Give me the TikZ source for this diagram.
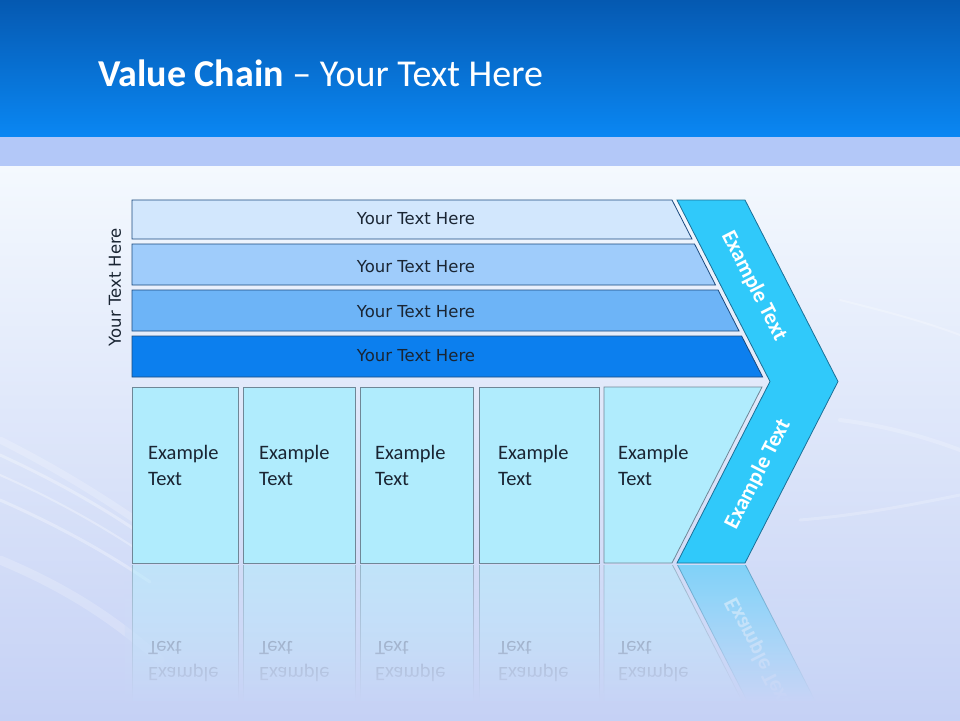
\documentclass[tikz,border=0pt]{standalone}
\usepackage{fontspec}
\setmainfont{Carlito}
\newfontfamily\barfont{DejaVu Sans}
\usetikzlibrary{fadings}
\definecolor{headtop}{HTML}{0559B1}
\definecolor{headbot}{HTML}{0A87F3}
\definecolor{band}{HTML}{B3C8F8}
\definecolor{bgtop}{HTML}{F4F9FE}
\definecolor{bgmid}{HTML}{DCEEFC}
\definecolor{bgbot}{HTML}{C5D1F5}
\definecolor{barA}{HTML}{D2E7FD}
\definecolor{barB}{HTML}{9FCCFB}
\definecolor{barC}{HTML}{6DB4F7}
\definecolor{barD}{HTML}{0C7FEE}
\definecolor{baredge}{HTML}{1B4A7E}
\definecolor{boxfill}{HTML}{B0ECFD}
\definecolor{boxedge}{HTML}{6F8797}
\definecolor{chevfill}{HTML}{30C9FA}
\definecolor{chevedge}{HTML}{1B6F96}
\definecolor{textdark}{HTML}{1A2533}
\tikzfading[name=reflfade, top color=transparent!100, bottom color=transparent!0]
\newcommand{\slantbar}[2]% top y, bottom y
{(132,#1) -- ({672+0.512*(#1-200)},#1) -- ({672+0.512*(#2-200)},#2) -- (132,#2) -- cycle
}
\newcommand{\chevronpath}% outline of the arrow
{(677,200) -- (745,200) -- (838,381.5) -- (745,563) -- (677,563) -- (770,381.5) -- cycle
}

\begin{document}
\begin{tikzpicture}[x=1pt,y=-1pt,
  barline/.style={draw=baredge, line width=0.8pt},
  boxline/.style={draw=boxedge, fill=boxfill, line width=0.8pt},
  chevline/.style={draw=chevedge, fill=chevfill, line width=0.8pt},
  streak/.style={white, line cap=round, opacity=0.3},
  bartext/.style={font=\barfont\fontsize{16.5}{20}\selectfont, text=textdark, inner sep=0pt},
  boxtext/.style={font=\fontsize{20.5}{26}\selectfont, text=textdark, align=left, anchor=north west, inner sep=0pt},
  chevtext/.style={font=\bfseries\fontsize{22}{26}\selectfont, text=white, inner sep=0pt}]
  \useasboundingbox (0,0) rectangle (960,720);
  % background
  \shade[top color=headtop, bottom color=headbot] (0,0) rectangle (960,137);
  \fill[band] (0,137) rectangle (960,166);
  \shade[top color=bgtop, middle color=bgmid, bottom color=bgbot] (0,166) rectangle (960,720);
  \draw[streak, line width=7pt, opacity=0.2] (0,440) .. controls (50,465) and (100,495) .. (150,530);
  \draw[streak, line width=3pt] (0,455) .. controls (50,478) and (100,505) .. (150,540);
  \draw[streak, line width=2pt] (0,475) .. controls (50,497) and (100,524) .. (150,558);
  \draw[streak, line width=3pt] (0,500) .. controls (50,522) and (100,548) .. (150,582);
  \draw[streak, line width=9pt, opacity=0.2] (0,560) .. controls (60,585) and (110,615) .. (160,660);
  \draw[streak, line width=2pt, opacity=0.25] (840,300) .. controls (880,310) and (920,320) .. (960,335);
  \draw[streak, line width=4pt, opacity=0.2] (840,420) .. controls (880,425) and (920,435) .. (960,450);
  \draw[streak, line width=3pt, opacity=0.2] (800,520) .. controls (860,515) and (910,505) .. (960,495);
  % title
  \node[anchor=base west, text=white, font=\fontsize{38}{44}\selectfont, inner sep=0pt] (title) at (98,86) {\textbf{Value Chain} -- Your Text Here};
  % bars
  \draw[barline, fill=barA] \slantbar{200}{239};
  \draw[barline, fill=barB] \slantbar{244}{285};
  \draw[barline, fill=barC] \slantbar{290}{331};
  \draw[barline, fill=barD] \slantbar{336}{377};
  \node[bartext] (bar1) at (416,219) {Your Text Here};
  \node[bartext] (bar2) at (416,267) {Your Text Here};
  \node[bartext] (bar3) at (416,312) {Your Text Here};
  \node[bartext] (bar4) at (416,356) {Your Text Here};
  \node[bartext, rotate=90] (sidelabel) at (115,287) {Your Text Here};
  % boxes
  \draw[boxline] (132,387) rectangle (238,563);
  \draw[boxline] (243,387) rectangle (355,563);
  \draw[boxline] (360,387) rectangle (473,563);
  \draw[boxline] (479,387) rectangle (599,563);
  \draw[boxline] (604,387) -- (762,387) -- (672,563) -- (604,563) -- cycle;
  \node[boxtext] (box1) at (148,445) {Example\\Text};
  \node[boxtext] (box2) at (259,445) {Example\\Text};
  \node[boxtext] (box3) at (375,445) {Example\\Text};
  \node[boxtext] (box4) at (498,445) {Example\\Text};
  \node[boxtext] (box5) at (618,445) {Example\\Text};
  % arrow
  \draw[chevline] \chevronpath;
  \node[chevtext, rotate=-63] (chevtop) at (754,286) {Example Text};
  \node[chevtext, rotate=63] (chevbot) at (758,474) {Example Text};
  % reflection
  \begin{scope}
    \clip (125,565) rectangle (860,700);
    \begin{scope}[shift={(0,1127)}, yscale=-1, transform shape, opacity=0.5]
      \draw[boxline] (132,387) rectangle (238,563);
      \draw[boxline] (243,387) rectangle (355,563);
      \draw[boxline] (360,387) rectangle (473,563);
      \draw[boxline] (479,387) rectangle (599,563);
      \draw[boxline] (604,387) -- (762,387) -- (672,563) -- (604,563) -- cycle;
      \node[boxtext] (rbox1) at (148,445) {Example\\Text};
      \node[boxtext] (rbox2) at (259,445) {Example\\Text};
      \node[boxtext] (rbox3) at (375,445) {Example\\Text};
      \node[boxtext] (rbox4) at (498,445) {Example\\Text};
      \node[boxtext] (rbox5) at (618,445) {Example\\Text};
      \draw[chevline] \chevronpath;
      \node[chevtext, rotate=63] (rchevbot) at (758,474) {Example Text};
    \end{scope}
  \end{scope}
  \shade[top color=bgmid!55!bgbot, bottom color=bgmid!10!bgbot, path fading=reflfade] (125,565) rectangle (860,700);
\end{tikzpicture}
\end{document}
